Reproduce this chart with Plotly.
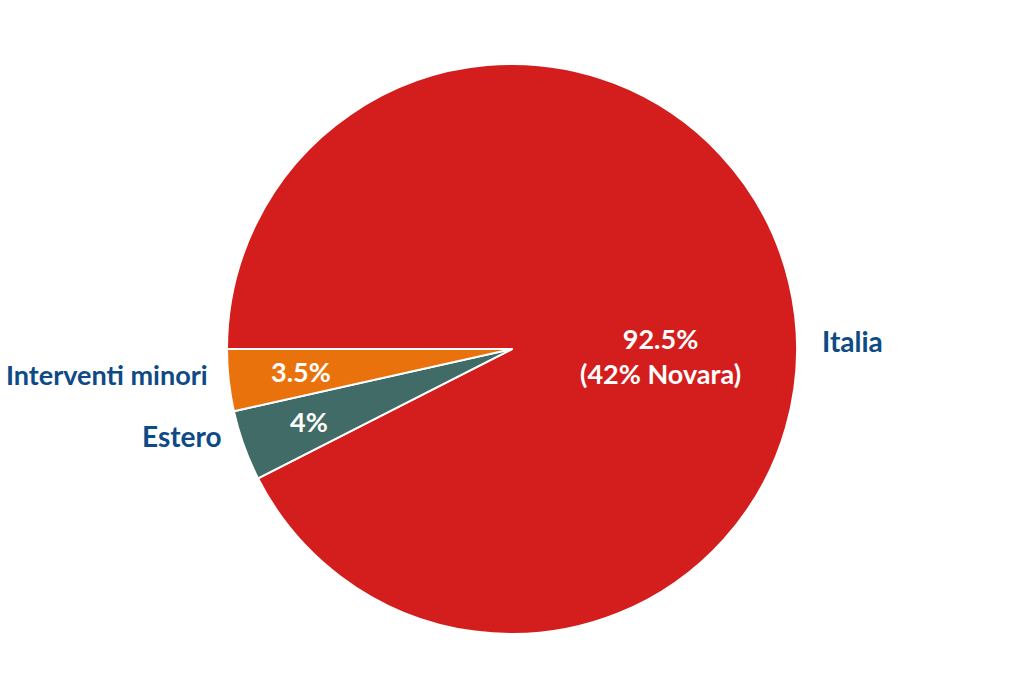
import plotly.graph_objects as go

# slice order: clockwise starting at 9 o'clock
labels = ["Italia", "Estero", "Interventi minori"]
values = [92.5, 4, 3.5]
inside_text = ["92.5%<br>(42% Novara)", "4%", "3.5%"]
colors = ["#D41E1E", "#406B67", "#EA720C"]

W, H = 1024, 698
cx, cy, r = 512, 349, 285

fig = go.Figure(go.Pie(
    labels=labels, values=values, sort=False,
    direction="clockwise", rotation=-90,
    marker=dict(colors=colors, line=dict(color="white", width=2)),
    textinfo="none", hoverinfo="label+percent", showlegend=False,
    domain=dict(x=[(cx - r) / W, (cx + r) / W], y=[(H - cy - r) / H, (H - cy + r) / H]),
))

font_family = "Lato, Open Sans, sans-serif"
label_color = "#0D4A86"

# positions (px) for outside labels and inside values
outside_pos = [(820, 341, "left", 28), (224, 436, "right", 28), (210, 374, "right", 27)]
inside_pos = [(660, 356), (309, 421), (301, 371)]

for lab, (x, y, anc, sz) in zip(labels, outside_pos):
    fig.add_annotation(x=x / W, y=1 - y / H, xref="paper", yref="paper",
                       text="<b>%s</b>" % lab, showarrow=False, xanchor=anc, yanchor="middle",
                       font=dict(family=font_family, size=sz, color=label_color))
for t, (x, y) in zip(inside_text, inside_pos):
    fig.add_annotation(x=x / W, y=1 - y / H, xref="paper", yref="paper",
                       text="<b>%s</b>" % t, showarrow=False, xanchor="center", yanchor="middle",
                       font=dict(family=font_family, size=27, color="white"))

fig.update_layout(width=W, height=H, margin=dict(l=0, r=0, t=0, b=0),
                  paper_bgcolor="white", plot_bgcolor="white")
fig.write_html("out.html", config={"displayModeBar": False},
               post_script="document.body.style.margin='0';document.body.style.overflow='hidden';")
